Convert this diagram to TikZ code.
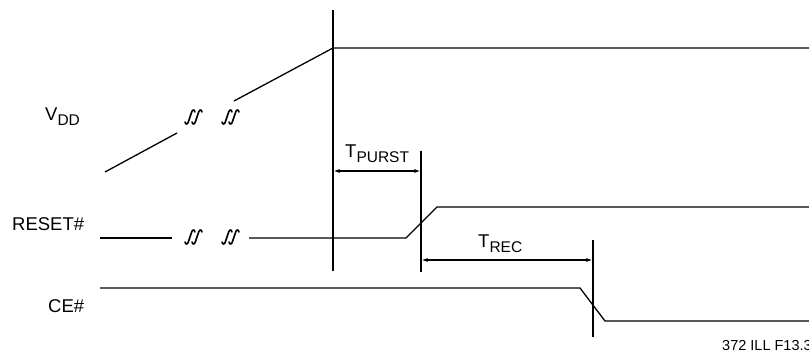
\documentclass[tikz,border=0pt]{standalone}
\usepackage{fontspec}
\setmainfont{Liberation Sans}
\usetikzlibrary{arrows.meta}
\newcommand\sigsub[2]{#1\raisebox{-5.5pt}{\fontsize{15.5}{17}\selectfont #2}}
\begin{document}
\begin{tikzpicture}[x=1pt,y=-1pt,
  sig/.style={line width=1.3pt},
  markline/.style={line width=1.1pt},
  dim/.style={line width=1.1pt,{Latex[length=6pt,width=4pt]}-{Latex[length=6pt,width=4pt]}},
  lbl/.style={inner sep=0pt,anchor=base west,font=\fontsize{18.5}{20}\selectfont},
  note/.style={inner sep=0pt,anchor=base west,font=\fontsize{14.5}{16}\selectfont},
  sq/.style={line width=1.6pt,line cap=round}]
\useasboundingbox (0,0) rectangle (809,356);
\tikzset{brk/.pic={
  \foreach \dx in {0,7}{
    \draw[sq] (\dx-4,5) .. controls (\dx-3.5,8) and (\dx-1,8) .. (\dx,3)
      -- (\dx+2,-3) .. controls (\dx+3,-8) and (\dx+5.5,-8) .. (\dx+6,-5);
  }}}
% labels
\node[lbl] (vdd) at (45,120) {\sigsub{V}{DD}};
\node[lbl] (rst) at (12,230) {RESET\#};
\node[lbl] (ce) at (48,312) {CE\#};
\node[lbl] (tp) at (345,157) {\sigsub{T}{PURST}};
\node[lbl] (tr) at (478,247) {\sigsub{T}{REC}};
\node[note] (ill) at (722,350) {372 ILL F13.3};
% VDD
\coordinate (v0) at (105,172);
\coordinate (v1) at (177,133);
\coordinate (v2) at (234,101);
\coordinate (v3) at (333,48);
\coordinate (v4) at (809,48);
\draw[sig] (v0) -- (v1);
\draw[sig] (v2) -- (v3) -- (v4);
\pic at (189,117) {brk};
\pic at (226,117) {brk};
% RESET#
\coordinate (r0) at (100,238);
\coordinate (r1) at (172,238);
\coordinate (r2) at (249,238);
\coordinate (r3) at (406,238);
\coordinate (r4) at (437,207);
\coordinate (r5) at (809,207);
\draw[sig] (r0) -- (r1);
\draw[sig] (r2) -- (r3) -- (r4) -- (r5);
\pic at (189,237) {brk};
\pic at (226,237) {brk};
% CE#
\coordinate (c0) at (100,288);
\coordinate (c1) at (580,288);
\coordinate (c2) at (605,321);
\coordinate (c3) at (809,321);
\draw[sig] (c0) -- (c1) -- (c2) -- (c3);
% markers
\coordinate (m1t) at (333,10);
\coordinate (m1b) at (333,271);
\coordinate (m2t) at (421,151);
\coordinate (m2b) at (421,272);
\coordinate (m3t) at (593,240);
\coordinate (m3b) at (593,337);
\draw[markline] (m1t) -- (m1b);
\draw[markline] (m2t) -- (m2b);
\draw[markline] (m3t) -- (m3b);
% dimensions
\coordinate (d1a) at (333.6,171);
\coordinate (d1b) at (420.4,171);
\coordinate (d2a) at (421.6,260);
\coordinate (d2b) at (592.4,260);
\draw[dim] (d1a) -- (d1b);
\draw[dim] (d2a) -- (d2b);
\end{tikzpicture}
\end{document}
